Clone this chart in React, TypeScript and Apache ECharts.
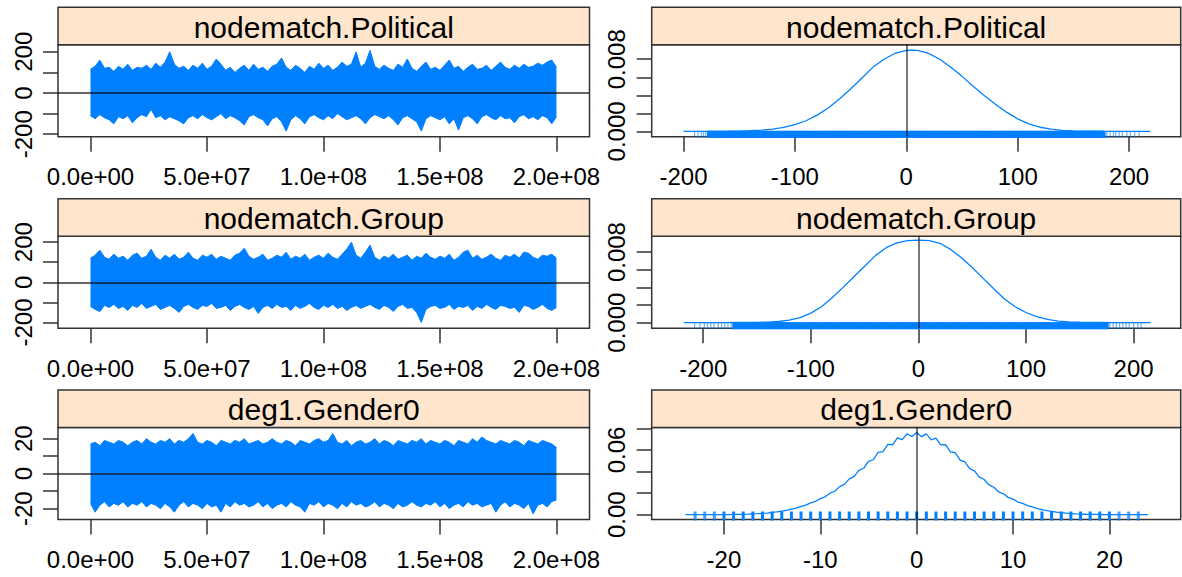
import React, { useEffect, useRef } from "react";
import * as echarts from "echarts";

// ---------- styling ----------
const FONT = "'Liberation Sans', Arial, Helvetica, sans-serif";
const BLUE = "#0080ff";
const INK = "#333333";
const STRIP_BG = "#ffe5cc";

// ---------- trace plots (left column) ----------
// one envelope value (upper / lower extreme of the chain) every ITER_STEP iterations
const ITER_STEP = 2e6;
const traceTickValues = [0, 5e7, 1e8, 1.5e8, 2e8];
const traceTickLabels = ["0.0e+00", "5.0e+07", "1.0e+08", "1.5e+08", "2.0e+08"];

const politicalHigh = [
  115, 130, 160, 120, 125, 105, 130, 115, 140, 110,
  125, 120, 135, 115, 145, 125, 150, 200, 140, 120,
  130, 110, 135, 120, 145, 115, 130, 165, 140, 110,
  125, 100, 120, 135, 110, 140, 115, 125, 105, 130,
  140, 170, 125, 110, 135, 120, 100, 130, 115, 145,
  120, 135, 110, 125, 150, 130, 140, 200, 125, 145,
  207, 130, 115, 135, 120, 110, 140, 125, 165, 120,
  105, 130, 150, 115, 125, 110, 135, 160, 120, 130,
  105, 125, 140, 115, 120, 135, 110, 130, 150, 125,
  115, 135, 120, 140, 125, 130, 145, 135, 150, 160,
  125,
];
const politicalLow = [
  -110, -125, -105, -120, -130, -150, -115, -125, -110, -145,
  -120, -105, -115, -80, -120, -110, -130, -115, -125, -135,
  -150, -120, -110, -125, -105, -120, -130, -115, -100, -125,
  -110, -120, -135, -155, -115, -105, -120, -130, -160, -125,
  -115, -140, -185, -130, -110, -125, -150, -115, -105, -120,
  -130, -110, -125, -100, -115, -130, -120, -110, -125, -150,
  -120, -105, -115, -125, -110, -130, -155, -120, -110, -125,
  -140, -185, -125, -110, -120, -130, -115, -150, -125, -180,
  -120, -110, -125, -150, -115, -105, -120, -130, -110, -125,
  -120, -145, -115, -105, -125, -115, -130, -110, -120, -150,
  -115,
];

const groupHigh = [
  120, 135, 160, 125, 115, 140, 120, 130, 110, 135,
  145, 120, 130, 165, 125, 110, 135, 120, 140, 115,
  125, 150, 120, 110, 135, 125, 140, 115, 130, 120,
  110, 135, 145, 170, 130, 115, 125, 140, 110, 120,
  135, 125, 150, 115, 130, 120, 140, 110, 125, 135,
  120, 145, 125, 115, 140, 165, 200, 135, 120, 150,
  185, 125, 110, 130, 120, 140, 115, 125, 135, 110,
  130, 120, 145, 125, 115, 130, 120, 140, 110, 125,
  150, 160, 120, 135, 115, 125, 140, 120, 110, 135,
  125, 140, 120, 150, 145, 125, 115, 135, 130, 140,
  120,
];
const groupLow = [
  -120, -135, -146, -115, -125, -110, -130, -120, -140, -115,
  -125, -105, -130, -120, -110, -135, -125, -115, -130, -150,
  -120, -110, -125, -135, -115, -120, -105, -130, -125, -115,
  -140, -120, -110, -125, -135, -120, -155, -125, -115, -130,
  -110, -125, -120, -140, -115, -130, -120, -105, -125, -135,
  -115, -125, -110, -130, -120, -140, -125, -115, -130, -120,
  -110, -125, -135, -115, -125, -145, -120, -110, -130, -125,
  -150, -200, -135, -120, -115, -130, -125, -110, -135, -120,
  -125, -115, -140, -120, -130, -110, -125, -135, -115, -120,
  -130, -125, -150, -115, -120, -135, -125, -110, -130, -140,
  -125,
];

const genderHigh = [
  17, 18, 16, 19, 18, 17, 19, 18, 16, 18,
  19, 17, 20, 18, 17, 19, 18, 20, 17, 19,
  18, 20, 23, 18, 17, 19, 18, 16, 19, 18,
  17, 19, 18, 20, 17, 18, 19, 17, 18, 20,
  18, 17, 19, 18, 16, 19, 18, 17, 19, 20,
  18, 19, 23, 18, 17, 19, 16, 18, 19, 17,
  18, 20, 17, 19, 18, 16, 19, 18, 17, 19,
  18, 20, 17, 19, 18, 17, 19, 18, 16, 19,
  18, 17, 20, 18, 21, 19, 18, 17, 19, 18,
  17, 19, 18, 16, 19, 18, 17, 19, 18, 17,
  15,
];
const genderLow = [
  -17, -22, -18, -16, -19, -17, -18, -16, -19, -17,
  -18, -16, -19, -17, -18, -20, -17, -19, -22, -18,
  -16, -19, -17, -18, -20, -17, -19, -18, -22, -17,
  -19, -16, -18, -17, -19, -18, -16, -19, -17, -20,
  -18, -17, -19, -16, -18, -19, -22, -17, -18, -16,
  -19, -17, -18, -20, -17, -19, -16, -18, -17, -19,
  -18, -16, -19, -17, -18, -20, -17, -19, -18, -16,
  -18, -19, -17, -18, -16, -19, -17, -20, -18, -17,
  -19, -16, -18, -17, -19, -18, -17, -22, -18, -16,
  -19, -17, -18, -20, -17, -23, -18, -17, -19, -16,
  -15,
];

// ---------- density plots (right column) ----------
const politicalDensityX = [
  -200, -190, -180, -170, -160, -150, -140, -130, -120, -110, -100, -90, -80, -70, -60,
  -50, -40, -30, -20, -10, 0, 5, 10, 20, 30, 40, 50, 60, 70, 80, 90, 100, 110, 120, 130,
  140, 150, 160, 170, 180, 190, 200, 210, 219,
];
const politicalDensityY = [
  0.000005, 0.000008, 0.00001, 0.00001, 0.00002, 0.00004, 0.00007, 0.00014, 0.00026,
  0.00045, 0.00074, 0.00118, 0.0018, 0.0026, 0.0036, 0.0047, 0.0059, 0.0071, 0.008,
  0.00866, 0.00897, 0.00902, 0.00898, 0.00865, 0.008, 0.00712, 0.0061, 0.005, 0.00397,
  0.003, 0.00213, 0.00138, 0.00083, 0.00046, 0.00024, 0.00012, 0.00006, 0.00003, 0.00002,
  0.00001, 0.00001, 0.000005, 0.000003, 0,
];

const groupDensityX = [
  -218, -200, -190, -180, -170, -160, -150, -140, -130, -120, -110, -100, -90, -80, -70,
  -60, -50, -40, -30, -20, -10, 0, 10, 20, 30, 40, 50, 60, 70, 80, 90, 100, 110, 120, 130,
  140, 150, 160, 170, 180, 190, 200, 216,
];
const groupDensityY = [
  0, 0.000005, 0.000008, 0.00001, 0.000015, 0.00002, 0.00004, 0.00007, 0.00013, 0.00028,
  0.00058, 0.00108, 0.0018, 0.00285, 0.004, 0.0052, 0.0064, 0.0076, 0.0085, 0.00905,
  0.0093, 0.00935, 0.0093, 0.009, 0.0083, 0.00735, 0.00625, 0.00505, 0.00385, 0.00268,
  0.0018, 0.00115, 0.00068, 0.00036, 0.00018, 0.00009, 0.00005, 0.00003, 0.00002,
  0.00001, 0.000008, 0.000005, 0,
];

const genderDensityX = [
  -24, -23.5, -23, -22.5, -22, -21.5, -21, -20.5, -20, -19.5, -19, -18.5, -18, -17.5,
  -17, -16.5, -16, -15.5, -15, -14.5, -14, -13.5, -13, -12.5, -12, -11.5, -11, -10.5,
  -10, -9.5, -9, -8.5, -8, -7.5, -7, -6.5, -6, -5.5, -5, -4.5, -4, -3.5, -3, -2.5, -2,
  -1.5, -1, -0.5, 0, 0.5, 1, 1.5, 2, 2.5, 3, 3.5, 4, 4.5, 5, 5.5, 6, 6.5, 7, 7.5, 8,
  8.5, 9, 9.5, 10, 10.5, 11, 11.5, 12, 12.5, 13, 13.5, 14, 14.5, 15, 15.5, 16, 16.5,
  17, 17.5, 18, 18.5, 19, 19.5, 20, 20.5, 21, 21.5, 22, 22.5, 23, 23.5, 24,
];
const genderDensityY = [
  0, 0, 0.00001, 0.00001, 0.00001, 0.00002, 0.00003, 0.00005, 0.00008, 0.00011, 0.00017,
  0.00022, 0.00034, 0.00045, 0.00066, 0.00086, 0.0012, 0.0015, 0.00205, 0.0025, 0.00335,
  0.00395, 0.0051, 0.006, 0.00765, 0.00875, 0.0109, 0.0122, 0.01495, 0.0165, 0.0199,
  0.0217, 0.026, 0.0281, 0.0332, 0.0353, 0.0411, 0.043, 0.0494, 0.0509, 0.0577, 0.0585,
  0.0652, 0.0648, 0.0711, 0.0695, 0.075, 0.0725, 0.0762,
  0.0723, 0.0749, 0.0694, 0.0709, 0.0646, 0.065, 0.0582, 0.0574, 0.0506, 0.049, 0.0426,
  0.0406, 0.0348, 0.0326, 0.0276, 0.0254, 0.0212, 0.0193, 0.016, 0.0144, 0.0117, 0.0104,
  0.0083, 0.0072, 0.00565, 0.00475, 0.00365, 0.00305, 0.00228, 0.0018, 0.00132, 0.00104,
  0.00074, 0.00056, 0.00036, 0.00028, 0.00018, 0.00013, 0.00008, 0.00006, 0.00004,
  0.00003, 0.00002, 0.00001, 0.00001, 0.00001, 0, 0,
];

// rug: every integer in the core interval occurs, tails listed individually
const politicalRugCore = [-178, 178];
const politicalRugTail = [-190, -187, -184, -182, -180, 180, 183, 186, 188, 191, 194, 198, 201, 205, 209];
const groupRugCore = [-172, 176];
const groupRugTail = [-208, -203, -199, -196, -193, -190, -186, -183, -180, -177, -174, 178, 181, 184, 187, 190, 193, 196, 200, 204, 207];
const genderRug = [
  -23, -22, -21, -20, -19, -18, -17, -16, -15, -14, -13, -12, -11, -10, -9, -8, -7, -6,
  -5, -4, -3, -2, -1, 0, 1, 2, 3, 4, 5, 6, 7, 8, 9, 10, 11, 12, 13, 14, 15, 16, 17, 18,
  19, 20, 21, 22, 23,
];

// ---------- layout ----------
const COL_LEFT = [58, 651.7];
const COL_WIDTH = [531.5, 529];
const ROW_TOP = [7.3, 198.7, 390];
const STRIP_H = 37.5;
const PLOT_H = 92;
const TICK_LEN = 15;

const coreRange = (core: number[]) => {
  const out: number[] = [];
  for (let v = core[0]; v <= core[1]; v++) out.push(v);
  return out;
};

type Panel = {
  name: string;
  high: number[];
  low: number[];
  traceY: [number, number];
  traceYTicks: number[];
  traceYLabels: number[];
  densX: number[];
  densY: number[];
  densXRange: [number, number];
  densXTicks: number[];
  densYRange: [number, number];
  densYTicks: number[];
  densYLabels: number[];
  densDigits: number;
  rugLen: number;
  rug: number[][]; // [value, 0, opacity, width]
};

const panels: Panel[] = [
  {
    name: "nodematch.Political",
    high: politicalHigh,
    low: politicalLow,
    traceY: [-212.6, 234],
    traceYTicks: [-200, -100, 0, 100, 200],
    traceYLabels: [-200, 0, 200],
    densX: politicalDensityX,
    densY: politicalDensityY,
    densXRange: [-228.5, 246.3],
    densXTicks: [-200, -100, 0, 100, 200],
    densYRange: [-0.0006, 0.0096],
    densYTicks: [0, 0.002, 0.004, 0.006, 0.008],
    densYLabels: [0, 0.008],
    densDigits: 3,
    rugLen: 6,
    rug: [
      ...coreRange(politicalRugCore).map((v) => [v, 0, 1, 2]),
      ...politicalRugTail.map((v) => [v, 0, 0.6, 1.2]),
    ],
  },
  {
    name: "nodematch.Group",
    high: groupHigh,
    low: groupLow,
    traceY: [-228.6, 229.6],
    traceYTicks: [-200, -100, 0, 100, 200],
    traceYLabels: [-200, 0, 200],
    densX: groupDensityX,
    densY: groupDensityY,
    densXRange: [-247.9, 243.8],
    densXTicks: [-200, -100, 0, 100, 200],
    densYRange: [-0.00063, 0.0098],
    densYTicks: [0, 0.002, 0.004, 0.006, 0.008],
    densYLabels: [0, 0.008],
    densDigits: 3,
    rugLen: 6,
    rug: [
      ...coreRange(groupRugCore).map((v) => [v, 0, 1, 2]),
      ...groupRugTail.map((v) => [v, 0, 0.6, 1.2]),
    ],
  },
  {
    name: "deg1.Gender0",
    high: genderHigh,
    low: genderLow,
    traceY: [-26.2, 26.4],
    traceYTicks: [-20, -10, 0, 10, 20],
    traceYLabels: [-20, 0, 20],
    densX: genderDensityX,
    densY: genderDensityY,
    densXRange: [-27.5, 27.4],
    densXTicks: [-20, -10, 0, 10, 20],
    densYRange: [-0.0045, 0.0808],
    densYTicks: [0, 0.02, 0.04, 0.06, 0.08],
    densYLabels: [0, 0.06],
    densDigits: 2,
    rugLen: 8,
    rug: genderRug.map((v) => [v, 0, Math.abs(v) > 20 ? 0.75 : 1, 3]),
  },
];

const tickStyle = (values: number[]) => ({
  show: true,
  inside: false,
  length: TICK_LEN,
  customValues: values,
  lineStyle: { color: INK, width: 1.5 },
});

const labelBase = {
  fontSize: 24,
  fontFamily: FONT,
  color: "#000",
};

function buildOption() {
  const grid: any[] = [];
  const xAxis: any[] = [];
  const yAxis: any[] = [];
  const series: any[] = [];
  const graphic: any[] = [];

  panels.forEach((p, r) => {
    const plotTop = ROW_TOP[r] + STRIP_H;

    for (let c = 0; c < 2; c++) {
      grid.push({
        left: COL_LEFT[c],
        top: plotTop,
        width: COL_WIDTH[c],
        height: PLOT_H,
        show: true,
        borderColor: INK,
        borderWidth: 1.5,
        backgroundColor: "#ffffff",
        containLabel: false,
        outerBoundsMode: "none",
      });
      graphic.push({
        type: "group",
        silent: true,
        children: [
          {
            type: "rect",
            shape: { x: COL_LEFT[c], y: ROW_TOP[r], width: COL_WIDTH[c], height: STRIP_H },
            style: { fill: STRIP_BG, stroke: INK, lineWidth: 1.5 },
          },
          {
            type: "text",
            x: COL_LEFT[c] + COL_WIDTH[c] / 2,
            y: ROW_TOP[r] + STRIP_H / 2 + 1,
            style: {
              text: p.name,
              font: `30px ${FONT}`,
              fill: "#000",
              align: "center",
              verticalAlign: "middle",
            },
          },
        ],
      });
    }

    const gl = 2 * r;
    const gr = 2 * r + 1;

    // trace panel axes
    xAxis.push({
      type: "value",
      gridIndex: gl,
      min: -1.395e7,
      max: 2.142e8,
      axisLine: { show: false, onZero: false },
      splitLine: { show: false },
      axisTick: tickStyle(traceTickValues),
      axisLabel: {
        ...labelBase,
        margin: 28,
        customValues: traceTickValues,
        formatter: (v: number) => {
          const i = traceTickValues.findIndex((t) => Math.abs(t - v) < 1);
          return i >= 0 ? traceTickLabels[i] : "";
        },
      },
    });
    yAxis.push({
      type: "value",
      gridIndex: gl,
      min: p.traceY[0],
      max: p.traceY[1],
      axisLine: { show: false, onZero: false },
      splitLine: { show: false },
      axisTick: tickStyle(p.traceYTicks),
      axisLabel: {
        ...labelBase,
        rotate: 90,
        margin: 23,
        customValues: p.traceYLabels,
        formatter: (v: number) => String(Math.round(v)),
      },
    });

    // density panel axes
    xAxis.push({
      type: "value",
      gridIndex: gr,
      min: p.densXRange[0],
      max: p.densXRange[1],
      axisLine: { show: false, onZero: false },
      splitLine: { show: false },
      axisTick: tickStyle(p.densXTicks),
      axisLabel: {
        ...labelBase,
        margin: 28,
        customValues: p.densXTicks,
        formatter: (v: number) => String(Math.round(v)),
      },
    });
    yAxis.push({
      type: "value",
      gridIndex: gr,
      min: p.densYRange[0],
      max: p.densYRange[1],
      axisLine: { show: false, onZero: false },
      splitLine: { show: false },
      axisTick: tickStyle(p.densYTicks),
      axisLabel: {
        ...labelBase,
        rotate: 90,
        margin: 23,
        customValues: p.densYLabels,
        formatter: (v: number) => v.toFixed(p.densDigits),
      },
    });

    // trace: upper and lower envelopes filled towards zero
    const traceSeries = (vals: number[]) => ({
      type: "line",
      xAxisIndex: gl,
      yAxisIndex: gl,
      data: vals.map((v, i) => [i * ITER_STEP, v]),
      showSymbol: false,
      symbol: "none",
      silent: true,
      lineStyle: { color: BLUE, width: 1 },
      areaStyle: { color: BLUE, opacity: 1 },
    });
    series.push(traceSeries(p.high));
    series.push({
      ...traceSeries(p.low),
      markLine: {
        silent: true,
        symbol: ["none", "none"],
        label: { show: false },
        lineStyle: { color: "#000", opacity: 0.8, width: 1.7, type: "solid" },
        data: [{ yAxis: 0 }],
      },
    });

    // density curve
    series.push({
      type: "line",
      xAxisIndex: gr,
      yAxisIndex: gr,
      data: p.densX.map((x, i) => [x, p.densY[i]]),
      showSymbol: false,
      symbol: "none",
      silent: true,
      lineStyle: { color: BLUE, width: 1.3 },
      markLine: {
        silent: true,
        symbol: ["none", "none"],
        label: { show: false },
        lineStyle: { color: "#000", opacity: 0.7, width: 1.5, type: "solid" },
        data: [{ xAxis: 0 }],
      },
    });

    // rug of sampled values along the bottom edge
    const rugLen = p.rugLen;
    series.push({
      type: "custom",
      xAxisIndex: gr,
      yAxisIndex: gr,
      silent: true,
      data: p.rug,
      encode: { x: 0, y: 1 },
      renderItem: (params: any, api: any) => {
        const x = api.coord([api.value(0), 0])[0];
        const cs = params.coordSys;
        const bottom = cs.y + cs.height;
        return {
          type: "line",
          shape: { x1: x, y1: bottom - rugLen, x2: x, y2: bottom + 1 },
          style: { stroke: BLUE, lineWidth: api.value(3), opacity: api.value(2) },
        };
      },
    });
  });

  return {
    animation: false,
    backgroundColor: "#ffffff",
    textStyle: { fontFamily: FONT },
    grid,
    xAxis,
    yAxis,
    series,
    graphic: { elements: graphic },
  };
}

export default function App() {
  const ref = useRef<HTMLDivElement>(null);

  useEffect(() => {
    if (!ref.current) return;
    const chart = echarts.init(ref.current, undefined, { renderer: "svg" });
    chart.setOption(buildOption() as any);
    return () => chart.dispose();
  }, []);

  return (
    <div
      ref={ref}
      style={{
        position: "fixed",
        left: 0,
        top: 0,
        width: 1182,
        height: 577,
        background: "#ffffff",
      }}
    />
  );
}
